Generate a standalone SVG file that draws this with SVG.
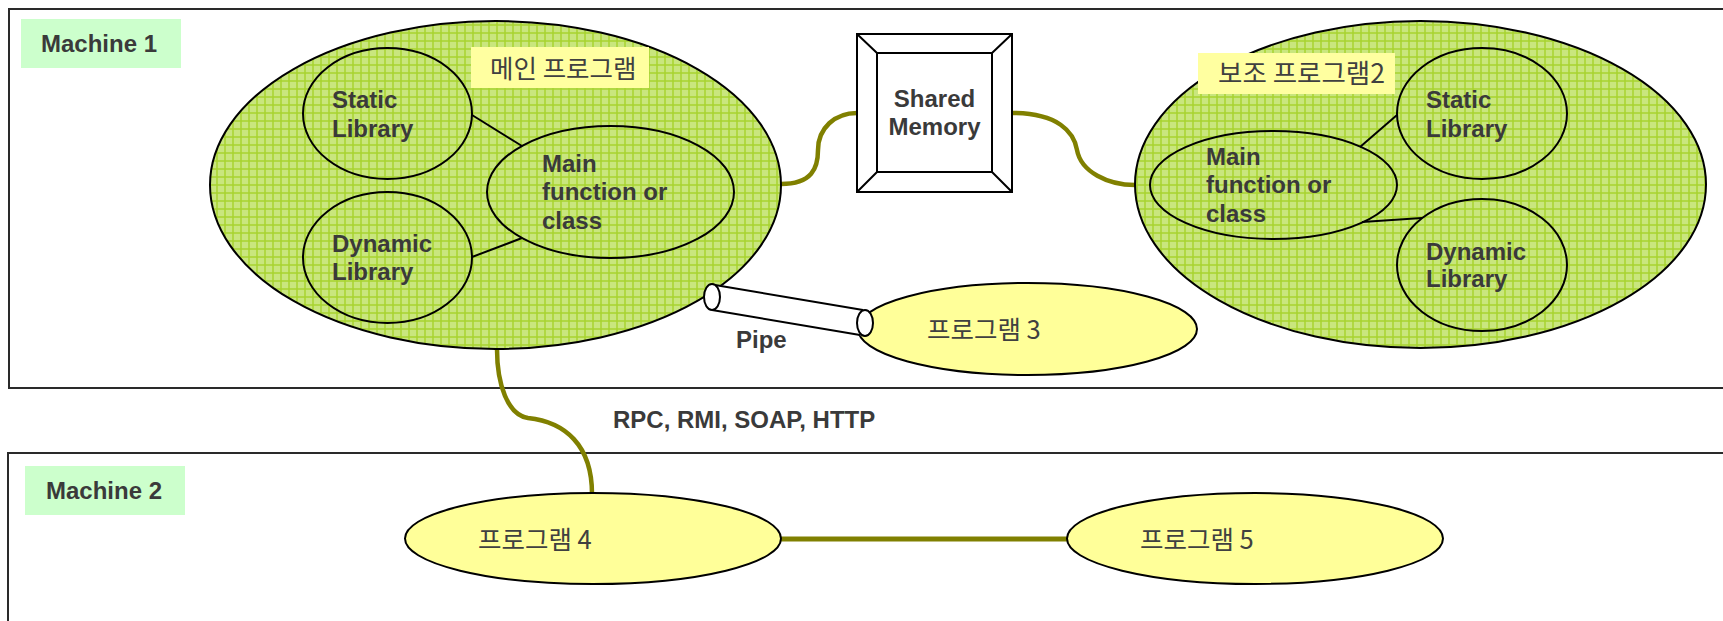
<svg xmlns="http://www.w3.org/2000/svg" width="1723" height="621" viewBox="0 0 1723 621">
<defs>
<pattern id="grid" width="8" height="8" patternUnits="userSpaceOnUse">
<rect width="8" height="8" fill="#c9e67e"/>
<rect x="0" y="0" width="8" height="2" fill="#a8d22e" opacity="0.75"/>
<rect x="0" y="0" width="2" height="8" fill="#a8d22e" opacity="0.75"/>
</pattern>
<style>
.box{fill:#fff;stroke:#2a2a2a;stroke-width:2}
.mlabel{fill:#ccffcc}
.klabel{fill:#ffffa0}
.big{fill:url(#grid);stroke:#000;stroke-width:2}
.inner{fill:none;stroke:#000;stroke-width:2}
.yel{fill:#ffff99;stroke:#000;stroke-width:2}
.b{font-family:"Liberation Sans",Arial,sans-serif;font-weight:bold;font-size:24px;fill:#3a3a3a}
.k{font-family:"Noto Sans CJK KR","Liberation Sans",sans-serif;font-size:25.5px;fill:#404040}
.wire{fill:none;stroke:#808000;stroke-width:4.5}
.thin{stroke:#000;stroke-width:2;fill:none}
</style>
</defs>

<g id="machine1">
<rect class="box" x="9" y="9" width="1730" height="379"/>
<rect class="mlabel" x="21" y="19" width="160" height="49"/>
<text class="b" x="41" y="52">Machine 1</text>
</g>
<g id="machine2">
<rect class="box" x="8" y="453" width="1730" height="200"/>
<rect class="mlabel" x="25" y="466" width="160" height="49"/>
<text class="b" x="46" y="499">Machine 2</text>
</g>

<g id="connectors">
<path class="wire" d="M781,184 C812,184 818,168 818,150 C818,128 835,113 857,113"/>
<path class="wire" d="M1012,113 C1058,113 1074,132 1077,150 C1081,172 1108,185 1135,185"/>
<path class="wire" d="M497,349 C497,385 508,415 528,418 C565,422 592,445 592,494"/>
<line class="wire" x1="781" y1="539" x2="1067" y2="539" style="stroke-width:5"/>
<text class="b" x="613" y="428">RPC, RMI, SOAP, HTTP</text>
</g>

<g id="main-program">
<ellipse class="big" cx="495.5" cy="185" rx="285.5" ry="164"/>
<rect class="klabel" x="471" y="47" width="178" height="41"/>
<text class="k" x="490" y="78">메인 프로그램</text>
<line class="thin" x1="472" y1="115" x2="522" y2="146"/>
<line class="thin" x1="472" y1="257" x2="522" y2="238"/>
<g id="main-static">
<ellipse class="inner" cx="387.5" cy="113.5" rx="84.5" ry="65.5"/>
<text class="b" x="332" y="108">Static</text>
<text class="b" x="332" y="137">Library</text>
</g>
<g id="main-dynamic">
<ellipse class="inner" cx="387.5" cy="257.5" rx="84.5" ry="65.5"/>
<text class="b" x="332" y="252">Dynamic</text>
<text class="b" x="332" y="280">Library</text>
</g>
<g id="main-func">
<ellipse class="inner" cx="610.5" cy="192" rx="123.5" ry="66"/>
<text class="b" x="542" y="172">Main</text>
<text class="b" x="542" y="200">function or</text>
<text class="b" x="542" y="229">class</text>
</g>
</g>

<g id="shared-memory">
<rect x="857" y="34" width="155" height="158" fill="#fff" stroke="#000" stroke-width="2"/>
<rect x="877" y="53" width="115" height="119" fill="#fff" stroke="#000" stroke-width="2"/>
<path class="thin" d="M857,34 L877,53 M1012,34 L992,53 M857,192 L877,172 M1012,192 L992,172"/>
<text class="b" x="934.5" y="107" text-anchor="middle">Shared</text>
<text class="b" x="934.5" y="135" text-anchor="middle">Memory</text>
</g>

<g id="sub-program2">
<ellipse class="big" cx="1420.5" cy="184.5" rx="285.5" ry="163.5"/>
<rect class="klabel" x="1198" y="53" width="197" height="41"/>
<text class="k" x="1218" y="83" style="font-size:26.5px">보조 프로그램2</text>
<line class="thin" x1="1397" y1="115" x2="1360" y2="147"/>
<line class="thin" x1="1422" y1="218" x2="1362" y2="222"/>
<g id="sub-static">
<ellipse class="inner" cx="1482" cy="113.5" rx="85" ry="65.5"/>
<text class="b" x="1426" y="108">Static</text>
<text class="b" x="1426" y="137">Library</text>
</g>
<g id="sub-dynamic">
<ellipse class="inner" cx="1482" cy="265" rx="85" ry="66"/>
<text class="b" x="1426" y="260">Dynamic</text>
<text class="b" x="1426" y="287">Library</text>
</g>
<g id="sub-func">
<ellipse class="inner" cx="1273.5" cy="185" rx="123.5" ry="54"/>
<text class="b" x="1206" y="165">Main</text>
<text class="b" x="1206" y="193">function or</text>
<text class="b" x="1206" y="222">class</text>
</g>
</g>

<g id="program3">
<ellipse class="yel" cx="1027.5" cy="329" rx="169.5" ry="46"/>
<text class="k" x="927" y="339">프로그램 3</text>
</g>

<g id="pipe">
<path d="M712,284 L865,310 L865,336 L712,310 Z" fill="#fff" stroke="none"/>
<line class="thin" x1="715" y1="285" x2="863" y2="310"/>
<line class="thin" x1="712" y1="310" x2="860" y2="335"/>
<ellipse cx="712" cy="297" rx="8" ry="13" fill="#fff" stroke="#000" stroke-width="2"/>
<ellipse cx="865" cy="323" rx="8" ry="13" fill="#fff" stroke="#000" stroke-width="2"/>
<text class="b" x="736" y="348">Pipe</text>
</g>

<g id="program4">
<ellipse class="yel" cx="593" cy="538.5" rx="188" ry="45.5"/>
<text class="k" x="478" y="549">프로그램 4</text>
</g>
<g id="program5">
<ellipse class="yel" cx="1255" cy="538.5" rx="188" ry="45.5"/>
<text class="k" x="1140" y="549">프로그램 5</text>
</g>
</svg>
